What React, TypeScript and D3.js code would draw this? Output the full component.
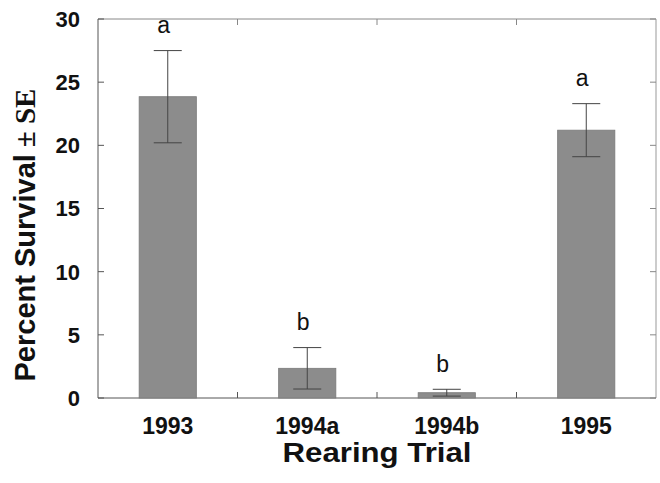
import React from 'react'
import * as d3 from 'd3'

const trials = ['1993', '1994a', '1994b', '1995']
const survival = [23.85, 2.35, 0.42, 21.2]
const stdErr = [3.65, 1.64, 0.27, 2.1]
const groups = ['a', 'b', 'b', 'a']
const yTicks = [0, 5, 10, 15, 20, 25, 30]

const W = 660
const H = 483
const left = 98
const right = 656
const top = 19
const bottom = 398

export default function App() {
  const x = d3.scaleBand().domain(trials).range([left, right]).padding(0)
  const y = d3.scaleLinear().domain([0, 30]).range([bottom, top])
  const barW = x.bandwidth() * 0.41
  const capW = 28
  const axisColor = '#555'
  const sans = 'Arial, "Liberation Sans", Helvetica, sans-serif'
  const serif = '"Times New Roman", "Liberation Serif", serif'

  // band boundaries get the small inward ticks on the top and bottom edges
  const seps = trials.slice(1).map((t) => x(t) as number)

  return (
    <svg
      width={W}
      height={H}
      style={{ position: 'absolute', left: 0, top: 0, background: '#fff' }}
    >
      {/* frame */}
      <line x1={left} y1={top} x2={right} y2={top} stroke="#888" strokeWidth={1} />
      <line x1={right} y1={top} x2={right} y2={bottom} stroke="#999" strokeWidth={1} />
      <line x1={left} y1={top} x2={left} y2={bottom} stroke={axisColor} strokeWidth={1} />
      <line x1={left} y1={bottom} x2={right} y2={bottom} stroke={axisColor} strokeWidth={1} />

      {/* y ticks (left inward, right inward) */}
      {yTicks.map((t) => (
        <g key={t}>
          <line x1={left} x2={left + 6} y1={y(t)} y2={y(t)} stroke={axisColor} />
          <line x1={right - 6} x2={right} y1={y(t)} y2={y(t)} stroke="#888" />
          <text
            x={80}
            y={y(t)}
            dy="0.36em"
            textAnchor="end"
            fontFamily={sans}
            fontWeight="bold"
            fontSize={22}
            fill="#111"
          >
            {t}
          </text>
        </g>
      ))}

      {seps.map((s, i) => (
        <g key={i}>
          <line x1={s} x2={s} y1={top} y2={top + 6} stroke="#888" />
          <line x1={s} x2={s} y1={bottom - 6} y2={bottom} stroke={axisColor} />
        </g>
      ))}

      {/* bars */}
      {trials.map((t, i) => {
        const cx = (x(t) as number) + x.bandwidth() / 2
        const hi = y(survival[i] + stdErr[i])
        const lo = y(survival[i] - stdErr[i])
        return (
          <g key={t}>
            <rect
              x={cx - barW / 2}
              y={y(survival[i])}
              width={barW}
              height={bottom - y(survival[i])}
              fill="#8c8c8c"
              stroke="#7a7a7a"
              strokeWidth={0.8}
            />
            <line x1={cx} x2={cx} y1={hi} y2={lo} stroke="#444" strokeWidth={1} />
            <line x1={cx - capW / 2} x2={cx + capW / 2} y1={hi} y2={hi} stroke="#444" />
            <line x1={cx - capW / 2} x2={cx + capW / 2} y1={lo} y2={lo} stroke="#444" />
            <text
              x={cx - 4}
              y={hi - 17.5}
              textAnchor="middle"
              fontFamily={sans}
              fontSize={23}
              fill="#111"
            >
              {groups[i]}
            </text>
            <text
              x={cx}
              y={434}
              textAnchor="middle"
              fontFamily={sans}
              fontWeight="bold"
              fontSize={23}
              fill="#111"
            >
              {t}
            </text>
          </g>
        )
      })}

      {/* axis titles */}
      <text
        x={(left + right) / 2}
        y={462}
        textAnchor="middle"
        fontFamily={sans}
        fontWeight="bold"
        fontSize={27}
        textLength={189}
        lengthAdjust="spacingAndGlyphs"
        fill="#111"
      >
        Rearing Trial
      </text>
      <text
        transform={`translate(35, 235) rotate(-90)`}
        textAnchor="middle"
        fontWeight="bold"
        fontSize={29}
        fill="#111"
      >
        <tspan fontFamily={sans}>Percent Survival</tspan>
        <tspan fontFamily={serif} dx={7}>± SE</tspan>
      </text>
    </svg>
  )
}
